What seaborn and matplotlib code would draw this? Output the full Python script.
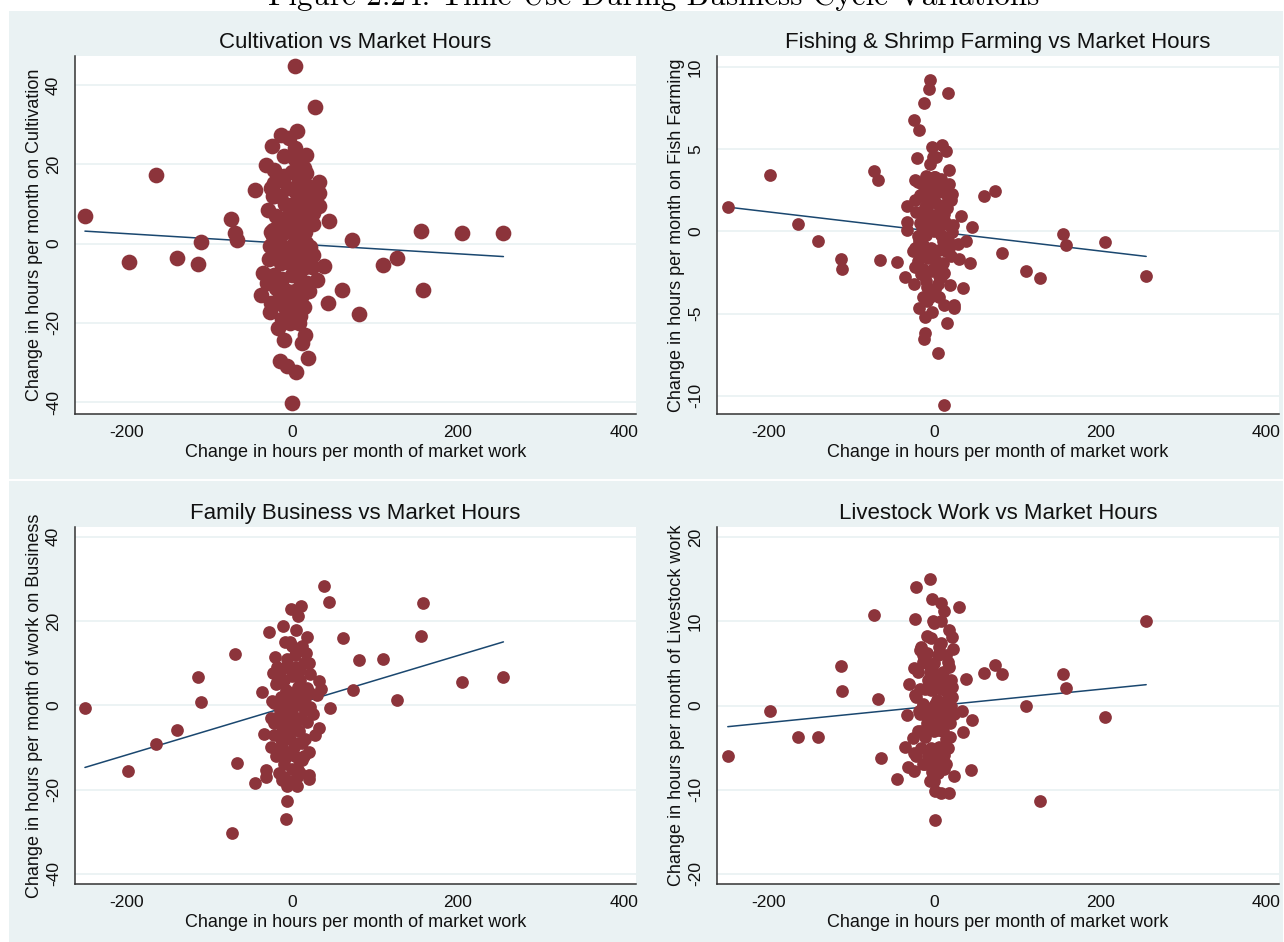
import matplotlib
matplotlib.use("Agg")
import matplotlib.pyplot as plt
import seaborn as sns
from matplotlib.patches import Rectangle
from matplotlib.lines import Line2D

sns.set_theme(style="white")
plt.rcParams["font.family"] = ["Liberation Sans", "DejaVu Sans"]
plt.rcParams["axes.unicode_minus"] = False

# ---------------------------------------------------------------------------
# Household-level changes (hours per month) between survey rounds
# ---------------------------------------------------------------------------
# Cultivation
cult_x = [4, 28, 6, -13, -4, -24, -164, 17, 4, -32, 17, -22, 33, 32, 32, -45,
          -22, -29, -23, 45, -250, -74, -69, -66, -110, -197, -139, -114, 72,
          155, 205, 255, 110, 127, 158, 39, 30, 60, 43, 81, -35, -37, -27, -25,
          -17, -10, -15, -6, 5, 19, 12, 16, 10, 7, 0, -7, -2, -27, 17, 20, 25,
          25, -20, -23, -23, 6, -10, 10, -20, -14, 18, -2,
          -18, -10, 0, 8, 14, -5, 5, 12, 20, -15, -8, 2, 10, 18, -20, -12, -4,
          6, 14, 22, -25, -16, -8, 0, 8, 16, -20, -10, 2, 10, 22, -28, -14, -4,
          6, 15, 24, -22, -12, 0, 10, 18, -16, -6, 4, 12, -18, -8, 2, 14, -12,
          -2, 8, -20, 25, 25, -30, -26, 10, -10, 3, 15,
          -22, -5, 5, -2, -12, 20]
cult_y = [44.7, 34.5, 28.5, 27.3, 26.5, 24.7, 17.4, 22.4, 21.2, 19.9, 17.8,
          18.6, 15.6, 12.7, 9.4, 13.5, 15.3, 8.4, 11.9, 5.6, 6.9, 6.3, 2.7, 0.8,
          0.4, -4.7, -3.6, -5.1, 0.8, 3.1, 2.7, 2.7, -5.5, -3.7, -11.6, -5.7,
          -9.2, -11.8, -15.1, -17.9, -7.4, -13.1, -17.2, -14.9, -21.2, -24.3,
          -29.7, -31.0, -32.4, -28.8, -25.0, -23.0, -18.3, -19.1, -40.1, -15.8,
          -12.4, -0.7, 0.2, -4.0, 4.8, 7.7, -11.1, 3.5, 1.8, -16.6, -13.3,
          -14.1, -9.1, -1.5, -3.2, -4.9,
          16, 17, 18, 16, 19, 14, 13, 12, 14, 12, 10, 10, 9, 10, 7, 6, 7, 6, 6,
          7, 3, 2, 3, 4, 3, 3, -2, -1, 0, -2, -1, -4, -5, -3, -5, -6, -6, -8,
          -9, -8, -9, -10, -12, -12, -12, -13, -15, -16, -15, -16, -19, -18,
          -20, 0, 12, -3, -10, 14, 21, 22, 24, 15,
          12, 6, 1, -20, 5, -12]

# Fishing & shrimp farming
fish_x = [-249, -198, -164, -140, -113, -111, -73, -68, -66, -45, -36, -25,
          -33, -33, -33, -25, -19, -13, -7, -5, 16, -3, 9, 14, 2, -21, -6, 18,
          -24, 60, 73, 32, 45, 38, 28, 30, 43, 81, 155, 158, 205, 110, 127, 255,
          34, 19, 8, 1, -9, 11, 24, 24, -19, -12, -3, 15, -11, -13, 4, 11, -9,
          -14, -24, -26, -14, 18, 21, 21, 18, 1, 11, -9, -24, -19, -9, 1,
          -20, -10, 0, 8, 14, -18, -8, 2, 10, 20, -22, -12, -2, 6, 15, -18, -6,
          4, 12, 22, -20, -10, 0, 8, 16, -24, -14, -4, 6, 14, -20, -8, 2, 10,
          20, -16, -4, 6, -10, 4, -5, 6, -2, -14, 12,
          -15, -5, 5, 15, -15, -5, 5, 18, -10, 0, 10, -12, 0, -2, 8, -16, 16,
          0, -10]
fish_y = [1.48, 3.45, 0.47, -0.6, -1.66, -2.3, 3.65, 3.14, -1.76, -1.83,
          -2.74, -3.2, 1.52, 0.57, 0.06, 6.75, 6.15, 7.8, 8.68, 9.23, 8.42,
          5.13, 5.27, 4.89, 4.52, 4.48, 4.12, 3.75, 3.1, 2.13, 2.49, 0.91, 0.26,
          -0.59, -0.75, -1.66, -1.93, -1.32, -0.14, -0.85, -0.65, -2.41, -2.84,
          -2.68, -3.41, -3.23, -2.78, -3.49, -3.39, -4.46, -4.5, -4.67, -4.65,
          -5.21, -4.91, -5.58, -6.19, -6.53, -7.38, -10.53, -4.2, -4.0, -2.17,
          -1.16, 0.47, 0.37, -0.04, 2.29, 2.9, 3.3, 1.07, 1.48, 1.89, -0.55,
          -1.56, -2.37,
          3.0, 3.4, 3.3, 3.2, 2.8, 2.2, 2.5, 2.6, 2.4, 1.9, 1.2, 1.5, 1.8, 1.6,
          1.4, 0.5, 0.8, 0.6, 0.7, 0.4, -0.3, -0.2, 0.0, -0.2, -0.5, -1.0, -0.8,
          -1.0, -1.1, -1.2, -1.8, -1.6, -1.8, -1.9, -1.5, -2.6, -2.4, -2.7,
          -3.0, -3.2, -4.0, -4.0, 4.5, -2.3, -2.5,
          2.9, 2.9, 2.9, 2.3, 0.2, 0.2, 0.2, -1.0, -1.2, -1.3, -0.6, 1.0, 1.0,
          -2.3, -2.3, -1.3, 2.0, 2.0, 2.0]

# Family business
biz_x = [-250, -198, -164, -139, -114, -110, -73, -69, -66, -45, -36, -32,
         -32, -34, -28, -11, -21, -23, -18, -1, 11, 7, 5, 18, -2, 17, 20, 22,
         32, 35, 30, 38, 44, 61, 81, 110, 73, 46, 127, 155, 158, 205, 255, 32,
         28, 20, 20, 20, 6, -6, -12, -6, -7, -7, 12, 7, -25, -22, -22, 15, -2,
         -2, 7, -7, 10, -12, 7, 2, -12, 17, 22, -7,
         -18, -6, 4, 14, -20, -10, 0, 10, 18, -24, -14, -4, 6, 14, 22, -20,
         -10, 0, 10, 18, -22, -12, -2, 8, 16, -16, -6, 4, 14, -10, 0, 10, -16,
         6, -4, -26, 25, 0, -8, 12,
         -15, -5, 5, -15, -5, 5, 15, -8, 4, -14, 2, 12, -20, 8, -10, 0, 10,
         -18]
biz_y = [-0.55, -15.7, -9.2, -5.85, 6.8, 0.7, -30.4, 12.1, -13.6, -18.5, 3.2,
         -15.3, -16.9, -6.8, 17.5, 18.7, 11.5, 7.6, 5.6, 22.8, 23.6, 21.2,
         17.9, 16.3, 15.1, 12.5, 10.0, 7.4, 5.8, 3.8, 2.4, 28.3, 24.6, 15.9,
         10.8, 11.1, 3.6, -0.6, 1.3, 16.4, 24.2, 5.5, 6.6, -5.3, -7.0, -11.0,
         -16.5, -17.5, -19.1, -19.1, -17.7, -22.7, -27.0, -12.2, -13.0, -15.3,
         -9.8, -4.3, 0.5, -1.1, -5.8, 0.5, 4.4, 9.2, 8.4, -9.0, -9.0, -2.7,
         -1.9, 2.1, -0.3, 3.6,
         9, 11, 12, 10, 5, 6, 7, 6, 4, 1, 2, 3, 2, 1, 3, -3, -2, -1, -3, -4,
         -7, -6, -8, -6, -8, -11, -11, -12, -12, -14, -15, -16, -16, -17, -18,
         -3, -2, 14, 15, 14,
         8, 9, 9, -1, -4, -4, -1, 0, 0, -8, -10, -9, -12, -13, -17, 3, 3, -4]

# Livestock work
live_x = [-249, -198, -164, -140, -113, -111, -73, -68, -65, -45, -33, -36,
          -32, -25, -26, -25, -31, -25, -24, -22, -6, -24, -3, 8, 11, 29, -1,
          -9, 17, 21, 8, 22, -17, -9, -14, 16, 18, 3, 38, 60, 73, 81, 155, 158,
          110, 205, 127, 255, 21, 21, 33, 45, 34, 19, 19, 44, 24, 11, 11, 6, -3,
          -14, 1, 8, 17, 1, -11, -9, 1, 11, -6, -14, -19, -9, 6, 3, 13, -4,
          -16, -4, 6, 14, -20, -10, 0, 10, 20, -22, -12, -2, 8, 16, -18, -6, 4,
          14, 24, -20, -10, 0, 10, 18, -16, -4, 6, 16, -12, 0, 10, -22, -6, 4,
          -2, 8,
          -14, 4, -8, 4, 14, -14, 0, 10, 20, -8, 6, -16, 14, -8, 4, 14, 0, -6,
          -18]
live_y = [-6.0, -0.63, -3.7, -3.8, 4.7, 1.7, 10.7, 0.83, -6.2, -8.7, -1.15,
          -4.9, -7.3, -7.8, -3.9, -5.7, 2.6, 4.4, 1.2, 14.1, 15.0, 10.3, 12.6,
          12.2, 11.2, 11.7, 9.8, 8.3, 9.0, 8.1, 7.4, 6.7, 6.6, 6.2, 5.2, 5.2,
          4.6, 3.7, 3.2, 3.9, 4.8, 3.7, 3.8, 2.1, 0.0, -1.4, -11.3, 10.0, 2.2,
          1.0, -0.6, -1.7, -3.2, -2.1, -3.7, -7.7, -8.4, -7.5, -5.9, -4.9, -7.9,
          -6.9, -10.1, -10.4, -10.4, -13.6, -3.7, -1.3, 0.2, -1.3, 3.4, 0.2,
          -0.6, -2.1, -2.9, 0.6, 1.8, 1.8,
          7, 8, 7, 6, 4, 5, 5, 4, 3, 1, 2, 2, 2, 1, -1, -1, -1, -1, -1, -3, -3,
          -3, -3, -2, -5, -5, -5, -5, -7, -7, -7, -6, -9, -8, 10, 10,
          6, 6, 3, 3, 3, 0, 0, 0, 0, -2, -2, -3, -4, -6, -6, -7, -9, 4, 2]

# Least-squares fit lines (intercept, slope)
cult_fit = (-0.05, -0.0127)
fish_fit = (0.0, -0.00595)
biz_fit = (0.0, 0.059)
live_fit = (-0.05, 0.0099)

x_ticks = [-200, 0, 200, 400]

# ---------------------------------------------------------------------------
BG = "#eaf2f3"
MAROON = "#8c343b"
NAVY = "#1a476f"
W, H = 1284, 942

panels = [
    dict(x=cult_x, y=cult_y, fit=cult_fit, title="Cultivation vs Market Hours",
         ylabel="Change in hours per month on Cultivation",
         yticks=[-40, -20, 0, 20, 40], ylim=(-43.0, 47.3), size=128,
         box=(75, 56, 636, 414)),
    dict(x=fish_x, y=fish_y, fit=fish_fit,
         title="Fishing & Shrimp Farming vs Market Hours",
         ylabel="Change in hours per month on Fish Farming",
         yticks=[-10, -5, 0, 5, 10], ylim=(-11.1, 10.67), size=84,
         box=(717, 56, 1279, 414)),
    dict(x=biz_x, y=biz_y, fit=biz_fit, title="Family Business vs Market Hours",
         ylabel="Change in hours per month of work on Business",
         yticks=[-40, -20, 0, 20, 40], ylim=(-42.4, 42.3), size=84,
         box=(75, 527, 636, 884)),
    dict(x=live_x, y=live_y, fit=live_fit, title="Livestock Work vs Market Hours",
         ylabel="Change in hours per month of Livestock work",
         yticks=[-20, -10, 0, 10, 20], ylim=(-21.2, 21.2), size=84,
         box=(717, 527, 1279, 884)),
]

fig = plt.figure(figsize=(W / 100, H / 100), dpi=100)
fig.patch.set_facecolor("white")

# graph region and the divider between the two rows
fig.patches.append(Rectangle((9 / W, 0), (1283 - 9) / W, (H - 11) / H,
                             transform=fig.transFigure, facecolor=BG,
                             edgecolor="none", zorder=-10))
fig.lines.append(Line2D([9 / W, 1283 / W], [1 - 480 / H, 1 - 480 / H],
                        transform=fig.transFigure, color="white", lw=1.4))

# caption sits at the very top edge, partly above the canvas
fig.text(654 / W, 1 - 5 / H,
         "Figure 2.24: Time Use During Business Cycle Variations",
         family=["cmr10", "DejaVu Serif"], fontsize=22.4, ha="center",
         va="baseline", color="black")

for p in panels:
    x0, y0, x1, y1 = p["box"]
    ax = fig.add_axes([x0 / W, 1 - y1 / H, (x1 - x0) / W, (y1 - y0) / H])
    ax.set_facecolor("white")
    ax.set_axisbelow(True)

    b0, b1 = p["fit"]
    lo, hi = min(p["x"]), max(p["x"])
    sns.lineplot(x=[lo, hi], y=[b0 + b1 * lo, b0 + b1 * hi], ax=ax,
                 color=NAVY, lw=1.1, zorder=2)
    sns.scatterplot(x=p["x"], y=p["y"], ax=ax, color=MAROON, s=p["size"],
                    linewidth=0, alpha=1, zorder=3)

    ax.set_xlim(-262, 415)
    ax.set_ylim(*p["ylim"])
    ax.set_xticks(x_ticks)
    ax.set_yticks(p["yticks"])
    ax.yaxis.grid(True, color=BG, lw=1.3)
    ax.xaxis.grid(False)

    for side in ("top", "right"):
        ax.spines[side].set_visible(False)
    for side in ("left", "bottom"):
        ax.spines[side].set_color("#333333")
        ax.spines[side].set_linewidth(1.1)

    ax.tick_params(axis="both", direction="out", length=5, width=1,
                   color="#333333", labelsize=12.5, labelcolor="#111111")
    ax.tick_params(axis="x", pad=3)
    ax.tick_params(axis="y", labelrotation=90, pad=5)
    for lab in ax.get_yticklabels():
        lab.set_verticalalignment("center")

    ax.set_xlabel("Change in hours per month of market work", fontsize=13,
                  labelpad=3, color="#111111")
    ax.set_ylabel(p["ylabel"], fontsize=13, labelpad=2, color="#111111")
    ax.set_title(p["title"], fontsize=16, pad=6, color="#111111")

fig.savefig("out.png", dpi=100, facecolor="white")
